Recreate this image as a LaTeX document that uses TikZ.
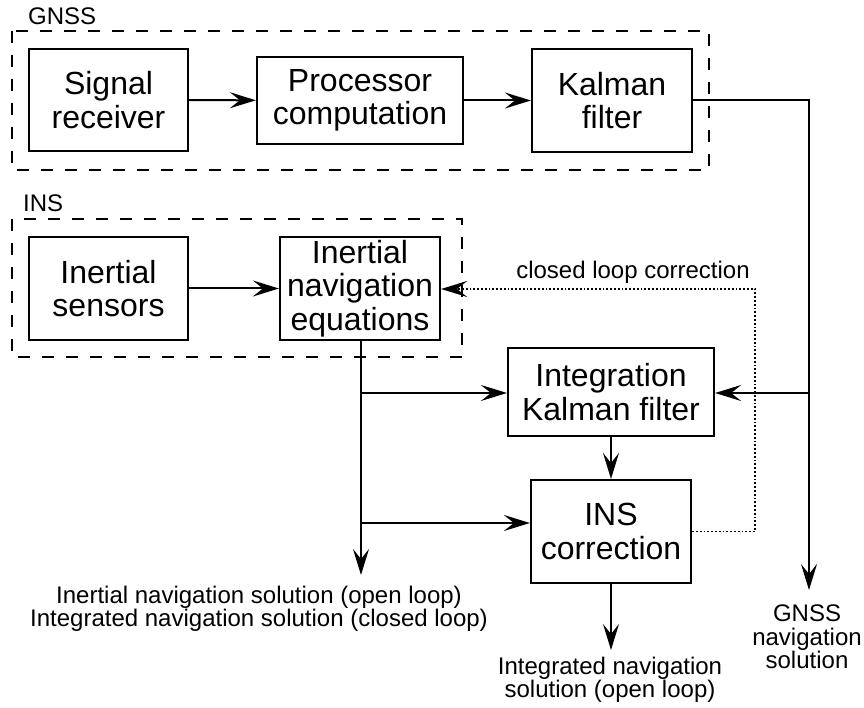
\documentclass[tikz,border=0pt]{standalone}
\usepackage{fontspec}
\setmainfont{Liberation Sans}
\usetikzlibrary{arrows.meta}
\begin{document}
\begin{tikzpicture}[x=1pt,y=-1pt,
  box/.style={draw,line width=2.2pt,align=center,inner sep=0pt,font=\fontsize{32}{33.5}\selectfont},
  grp/.style={draw,line width=1.8pt,dash pattern=on 12pt off 12pt},
  lbl/.style={align=center,inner sep=0pt,font=\fontsize{24}{23.5}\selectfont},
  tip/.tip={Stealth[length=26pt,width=16pt,inset=10pt]},
  conn/.style={line width=2pt,-tip},
  dots/.style={line width=1.8pt,dash pattern=on 1.8pt off 2pt,-tip}]
\useasboundingbox (0,0) rectangle (864,708);
% groups
\draw[grp] (12,31) rectangle (709,170);
\draw[grp] (12,219) rectangle (462,357);
\node[lbl,anchor=west] (gnsslbl) at (28,16) {GNSS};
\node[lbl,anchor=west] (inslbl) at (23,203) {INS};
% blocks
\node[box,minimum width=159pt,minimum height=102pt] (sig) at (108.5,100) {Signal\\receiver};
\node[box,minimum width=206pt,minimum height=87pt] (proc) at (360,100.5) {Processor\\computation};
\node[box,minimum width=160pt,minimum height=103pt] (kal) at (612,100.5) {Kalman\\filter};
\node[box,minimum width=159pt,minimum height=103pt] (sens) at (108.5,288.5) {Inertial\\sensors};
\node[box,minimum width=160pt,minimum height=103pt] (ineq) at (360,288.5) {Inertial\\navigation\\equations};
\node[box,minimum width=206pt,minimum height=88pt] (ikf) at (611,392) {Integration\\Kalman filter};
\node[box,minimum width=160pt,minimum height=103pt] (insc) at (611,531.5) {INS\\correction};
% texts
\node[lbl] (cl) at (633,272) {closed loop correction};
\node[lbl] (out1) at (259,609) {Inertial navigation solution (open loop)\\Integrated navigation solution (closed loop)};
\node[lbl] (out2) at (610,680) {Integrated navigation\\solution (open loop)};
\node[lbl] (out3) at (807,637) {GNSS\\navigation\\solution};
% coordinates
\coordinate (gc) at (809,100.5);
\coordinate (gend) at (809,590);
\coordinate (gb) at (809,393);
\coordinate (ib1) at (361,393);
\coordinate (ib2) at (361,523);
\coordinate (iend) at (361,575);
\coordinate (cend) at (611,650);
\coordinate (dc1) at (755,531.5);
\coordinate (dc2) at (755,289);
% connectors
\draw[conn] (sig) -- (proc);
\draw[conn] (proc) -- (kal);
\draw[conn] (sens) -- (ineq);
\draw[conn] (kal.east) -- (gc) -- (gend);
\draw[conn] (gb) -- (ikf.east |- gb);
\draw[conn] (ineq.south -| ib1) -- (iend);
\draw[conn] (ib1) -- (ikf.west |- ib1);
\draw[conn] (ib2) -- (insc.west |- ib2);
\draw[conn] (ikf) -- (insc);
\draw[conn] (insc) -- (cend);
\draw[dots] (insc.east) -- (dc1) -- (dc2) -- (ineq.east |- dc2);
\end{tikzpicture}
\end{document}
